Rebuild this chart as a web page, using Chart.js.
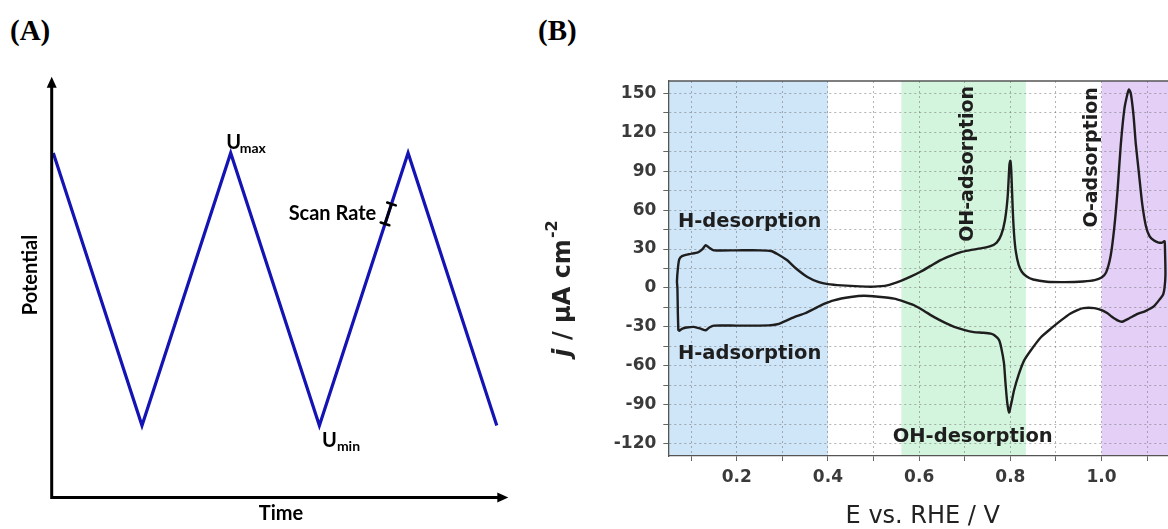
<!DOCTYPE html>
<html><head><meta charset="utf-8">
<script src="https://cdn.jsdelivr.net/npm/chart.js@4.4.1/dist/chart.umd.min.js"></script>
<style>
html,body{margin:0;padding:0;background:#fff;overflow:hidden;width:1168px;height:529px;}
#wrapA{position:absolute;left:0;top:0;width:560px;height:529px;}
#wrapB{position:absolute;left:540px;top:0;width:630px;height:529px;}
.panel{position:absolute;font-family:"Liberation Serif",serif;font-weight:bold;font-size:29px;line-height:30px;color:#000;}
</style></head><body>
<div class="panel" style="left:10px;top:15px">(A)</div>
<div class="panel" style="left:538px;top:15px">(B)</div>
<div id="wrapA"><canvas id="cA"></canvas></div>
<div id="wrapB"><canvas id="cB"></canvas></div>
<script>
// ---------- Panel A data (triangular potential waveform) ----------
const waveTime = [0, 1, 2, 3, 4, 5];
const wavePotential = [1, 0, 1, 0, 1, 0];   // 1 = Umax, 0 = Umin

// ---------- Panel B data (cyclic voltammogram, E vs RHE / V ; j / uA cm-2) ----------
const cvPotential = [
 0.072,0.071,0.070,0.069,0.071,0.074,0.080,0.095,0.115,0.125,0.132,0.140,0.150,0.200,0.250,0.275,0.290,0.310,0.330,0.355,0.380,0.400,0.430,0.470,0.500,0.530,0.560,0.580,0.603,0.625,0.647,0.670,0.690,0.710,0.735,0.755,0.770,0.780,0.788,0.794,0.798,0.800,0.802,0.805,0.808,0.812,0.818,0.825,0.835,0.850,0.880,0.920,0.960,0.985,1.000,1.010,1.020,1.028,1.035,1.042,1.050,1.057,1.060,1.064,1.070,1.075,1.082,1.089,1.097,1.105,1.115,1.125,1.133,1.138,
 1.139,1.140,1.138,1.135,1.128,1.115,1.095,1.079,1.060,1.045,1.035,1.022,1.013,1.000,0.984,0.960,0.947,0.930,0.911,0.890,0.867,0.845,0.830,0.818,0.808,0.802,0.797,0.793,0.789,0.786,0.780,0.775,0.765,0.757,0.740,0.720,0.700,0.677,0.655,0.633,0.610,0.589,0.567,0.545,0.510,0.479,0.450,0.413,0.390,0.370,0.350,0.326,0.300,0.289,0.270,0.200,0.150,0.140,0.132,0.122,0.106,0.090,0.081,0.074,0.072
];
const cvCurrent = [
 -33,-20,0,5,15,22,24.5,26,27.5,30,33,31,29,29,29,28.5,26,21.5,15,8.5,4.5,3,2,1.2,1.0,2,5.5,8.5,12.5,17,21.5,25,27.5,29,30.5,32,35,41,52,70,95,98,90,62,42,28,18,12.5,9,6.5,4.8,4.5,5,6,8,12,25,47,75,110,138,150,153,150,133,111,88,65,48,40,36.5,35,35,36,
 30,10,0,-5,-8.5,-14,-18,-20,-23.5,-26,-25,-22,-19.5,-17,-15.5,-15.5,-17,-20,-25,-31,-38,-48,-56,-67,-79,-89,-96,-88,-72,-58,-46,-40,-36.5,-35.2,-34.5,-34,-32.5,-30,-26.5,-22.5,-17.5,-13.3,-10.5,-8.2,-6.8,-6,-7,-9.5,-12.5,-16,-19.5,-22.5,-26.5,-28,-28.8,-29,-29,-30.5,-32.6,-31.5,-30,-30.5,-31.3,-33,-33
];
const yTickValues = [-120,-105,-90,-75,-60,-45,-30,-15,0,15,30,45,60,75,90,105,120,135,150];
const yLabelValues = [-120,-90,-60,-30,0,30,60,90,120,150];
const xTickValues = [0.1,0.2,0.3,0.4,0.5,0.6,0.7,0.8,0.9,1.0,1.1];
const xLabelValues = [0.2,0.4,0.6,0.8,1.0];
const regionStart = [0.05, 0.561, 1.0];
const regionEnd   = [0.40, 0.834, 1.15];
const regionLabels = ['H-desorption','H-adsorption','OH-adsorption','OH-desorption','O-adsorption'];

// ---------- Panel A ----------
const axesA = {
  id:'axesA',
  afterDatasetsDraw(chart){
    const {ctx, chartArea:a, scales:{x,y}} = chart;
    ctx.save();
    ctx.strokeStyle='#000'; ctx.fillStyle='#000'; ctx.lineWidth=3;
    ctx.beginPath();
    ctx.moveTo(a.left, a.top+8); ctx.lineTo(a.left, a.bottom); ctx.lineTo(a.right-8, a.bottom);
    ctx.stroke();
    ctx.beginPath();
    ctx.moveTo(a.left, a.top); ctx.lineTo(a.left-5, a.top+11); ctx.lineTo(a.left+5, a.top+11); ctx.closePath(); ctx.fill();
    ctx.beginPath();
    ctx.moveTo(a.right, a.bottom); ctx.lineTo(a.right-11, a.bottom-5); ctx.lineTo(a.right-11, a.bottom+5); ctx.closePath(); ctx.fill();
    ctx.font='bold 20px Lato';
    ctx.textAlign='center'; ctx.textBaseline='middle';
    ctx.fillText('Time', (a.left+a.right)/2 + 1, a.bottom + 16);
    ctx.save();
    ctx.translate(a.left - 21, 275);
    ctx.rotate(-Math.PI/2);
    ctx.fillText('Potential', 0, 0);
    ctx.restore();
    const px = (t)=>x.getPixelForValue(t), py=(v)=>y.getPixelForValue(v);
    ctx.textAlign='left'; ctx.textBaseline='alphabetic';
    ctx.font='bold 20px Lato';
    ctx.fillText('U', px(waveTime[2]) - 4.5, py(wavePotential[2]) - 4);
    ctx.font='bold 14px Lato';
    ctx.fillText('max', px(waveTime[2]) + 9, py(wavePotential[2]) );
    ctx.font='bold 20px Lato';
    ctx.fillText('U', px(waveTime[3]) + 2.5, py(wavePotential[3]) + 21);
    ctx.font='bold 14px Lato';
    ctx.fillText('min', px(waveTime[3]) + 17.5, py(wavePotential[3]) + 25);
    const f1 = 0.74, f2 = 0.813;
    const t0=waveTime[3], t1=waveTime[4], v0=wavePotential[3], v1=wavePotential[4];
    const x1=px(t0+(t1-t0)*f1), y1=py(v0+(v1-v0)*f1), x2=px(t0+(t1-t0)*f2), y2=py(v0+(v1-v0)*f2);
    const dx=x2-x1, dy=y2-y1, L=Math.hypot(dx,dy), nx=-dy/L*4.5, ny=dx/L*4.5;
    ctx.lineWidth=2.6; ctx.lineCap='round';
    ctx.beginPath();
    ctx.moveTo(x1,y1); ctx.lineTo(x2,y2);
    ctx.moveTo(x1-nx,y1-ny); ctx.lineTo(x1+nx,y1+ny);
    ctx.moveTo(x2-nx,y2-ny); ctx.lineTo(x2+nx,y2+ny);
    ctx.stroke();
    ctx.font='bold 20px Lato';
    ctx.textAlign='right'; ctx.textBaseline='middle';
    ctx.fillText('Scan Rate', (x1+x2)/2 - 12, (y1+y2)/2 );
    ctx.restore();
  }
};

new Chart(document.getElementById('cA'), {
  type:'scatter',
  data:{datasets:[{
    data: waveTime.map((t,i)=>({x:t, y:wavePotential[i]})),
    showLine:true, borderColor:'#1414b4', borderWidth:3.2, pointRadius:0, tension:0
  }]},
  options:{
    responsive:true, maintainAspectRatio:false, animation:false, events:[],
    layout:{padding:{left:51.7, right:51.7, top:76.7, bottom:31.5}},
    plugins:{legend:{display:false}, tooltip:{enabled:false}},
    scales:{
      x:{type:'linear', display:false, min:-0.018, max:5.13},
      y:{type:'linear', display:false, min:-0.264, max:1.28}
    }
  },
  plugins:[axesA]
});

// ---------- Panel B ----------
const bandColors = ['#cfe5f8', '#d4f5dd', '#e4cff6'];
const decorB = {
  id:'decorB',
  beforeDraw(chart){
    const {ctx, chartArea:a, scales:{x}} = chart;
    ctx.save();
    ctx.beginPath(); ctx.rect(a.left, a.top, a.right-a.left, a.bottom-a.top); ctx.clip();
    regionStart.forEach((s,i)=>{
      const l = x.getPixelForValue(s), r = x.getPixelForValue(regionEnd[i]);
      ctx.fillStyle = bandColors[i];
      ctx.fillRect(l, a.top, r-l, a.bottom-a.top);
    });
    ctx.restore();
  },
  afterDraw(chart){
    const {ctx, chartArea:a, scales:{x,y}} = chart;
    ctx.save();
    ctx.strokeStyle='#555'; ctx.lineWidth=1.3;
    ctx.beginPath(); ctx.moveTo(a.left, a.top); ctx.lineTo(a.right, a.top); ctx.stroke();
    ctx.fillStyle='#1e1e1e';
    ctx.font='bold 19.5px "DejaVu Sans"';
    ctx.textAlign='left'; ctx.textBaseline='middle';
    ctx.fillText(regionLabels[0], x.getPixelForValue(0.071), y.getPixelForValue(51));
    ctx.fillText(regionLabels[1], x.getPixelForValue(0.071), y.getPixelForValue(-50.8));
    ctx.fillText(regionLabels[3], x.getPixelForValue(0.542), y.getPixelForValue(-114.5));
    ctx.textAlign='center';
    ctx.font='bold 19px "DejaVu Sans"';
    [[regionLabels[2],0.708,95.6],[regionLabels[4],0.9785,100.6]].forEach(([t,e,j])=>{
      ctx.save();
      ctx.translate(x.getPixelForValue(e), y.getPixelForValue(j));
      ctx.rotate(-Math.PI/2);
      ctx.fillText(t,0,0);
      ctx.restore();
    });
    ctx.fillStyle='#222';
    ctx.font='24px "DejaVu Sans"';
    ctx.textAlign='center'; ctx.textBaseline='middle';
    ctx.fillText('E vs. RHE / V', a.left + 254.5, a.bottom + 61);
    ctx.save();
    ctx.translate(a.left - 105, 289);
    ctx.rotate(-Math.PI/2);
    ctx.textAlign='left'; ctx.textBaseline='middle';
    const fMain='bold 24px "DejaVu Sans"', fIt='italic bold 24px "DejaVu Sans"', fSup='bold 16px "DejaVu Sans"';
    ctx.font=fIt; const wj=ctx.measureText('j').width;
    ctx.font=fMain; const wm=ctx.measureText(' / μA cm').width;
    ctx.font=fSup; const ws=ctx.measureText('-2').width;
    let sx = -(wj+wm+ws)/2;
    ctx.font=fIt; ctx.fillText('j', sx, 0); sx+=wj;
    ctx.font=fMain; ctx.fillText(' / μA cm', sx, 0); sx+=wm;
    ctx.font=fSup; ctx.fillText('-2', sx+1, -10);
    ctx.restore();
    ctx.restore();
  }
};

const gridStyle = {color:'rgba(105,105,105,0.5)', lineWidth:1, tickLength:5, tickColor:'#666', tickWidth:1};
const borderStyle = {color:'#555', width:1.3, dash:[2,3]};
const tickFont = {family:'DejaVu Sans', size:17, weight:'bold'};

new Chart(document.getElementById('cB'), {
  type:'scatter',
  data:{datasets:[{
    data: cvPotential.map((e,i)=>({x:e, y:cvCurrent[i]})),
    showLine:true, borderColor:'#1e1e1e', borderWidth:2.4, pointRadius:0, tension:0.2
  }]},
  options:{
    responsive:true, maintainAspectRatio:false, animation:false, events:[],
    layout:{padding:{left:0, right:0, top:81, bottom:0}},
    plugins:{legend:{display:false}, tooltip:{enabled:false}},
    scales:{
      x:{
        type:'linear', min:0.05, max:1.15,
        afterBuildTicks: s => { s.ticks = xTickValues.map(v=>({value:v})); },
        afterFit: s => { s.height = 73; },
        ticks:{autoSkip:false, maxRotation:0, padding:6, color:'#3a3a3a', font:tickFont,
               callback: v => xLabelValues.some(l=>Math.abs(l-v)<1e-6) ? Number(v).toFixed(1) : ''},
        grid:gridStyle, border:borderStyle
      },
      y:{
        type:'linear', min:-129.5, max:159.5,
        afterBuildTicks: s => { s.ticks = yTickValues.map(v=>({value:v})); },
        afterFit: s => { s.width = 128.3; },
        ticks:{autoSkip:false, padding:7, color:'#3a3a3a', font:tickFont,
               callback: v => yLabelValues.includes(v) ? String(v) : ''},
        grid:gridStyle, border:borderStyle
      }
    }
  },
  plugins:[decorB]
});
</script>
</body></html>
